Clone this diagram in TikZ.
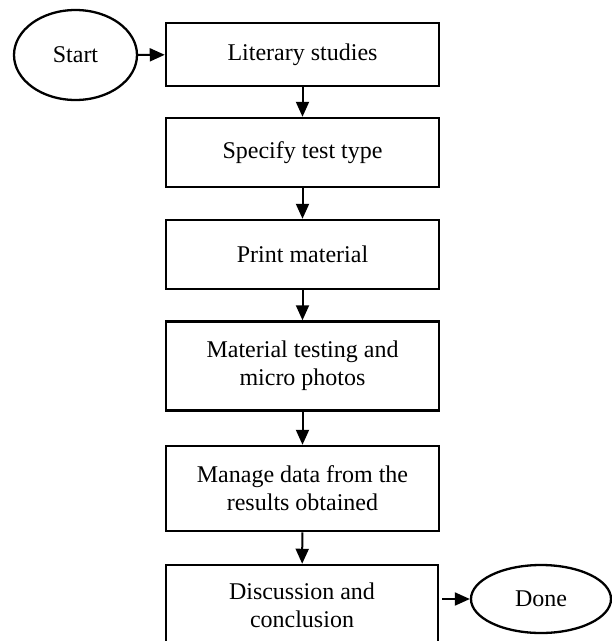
\documentclass[tikz,border=0pt]{standalone}
\usepackage{fontspec}
\setmainfont{Liberation Serif}
\usetikzlibrary{arrows.meta,shapes.geometric}
\begin{document}
\begin{tikzpicture}[x=1pt,y=-1pt,
  every node/.style={font=\fontsize{24}{28}\selectfont, inner sep=0pt, align=center},
  stepbox/.style={draw, line width=2.5pt, rectangle, minimum width=273pt},
  term/.style={draw, line width=2.3pt, ellipse},
  arr/.style={line width=2pt, -{Triangle[length=15pt,width=13pt]}}]
\useasboundingbox (0,0) rectangle (612,641);
\clip (0,0) rectangle (612,641);
\node[term, minimum width=123pt, minimum height=90pt] (start) at (75.5,55) {Start};
\node[stepbox, minimum height=63pt] (b1) at (302.5,54.5) {Literary studies};
\node[stepbox, minimum height=69pt] (b2) at (302.5,152.5) {Specify test type};
\node[stepbox, minimum height=69pt] (b3) at (302.5,254.5) {Print material};
\node[stepbox, minimum height=89pt] (b4) at (302.5,366) {Material testing and\\micro photos};
\node[stepbox, minimum height=85pt] (b5) at (302.5,488.5) {Manage data from the\\results obtained};
\node[stepbox, minimum height=80pt, minimum width=272pt] (b6) at (302,605) {Discussion and\\conclusion};
\node[term, minimum width=140pt, minimum height=68pt] (done) at (541,599) {Done};
\coordinate (d0) at (442,599);
\draw[arr] (start) -- (b1);
\draw[arr] (b1) -- (b2);
\draw[arr] (b2) -- (b3);
\draw[arr] (b3) -- (b4);
\draw[arr] (b4) -- (b5);
\draw[arr] (b5) -- (b6);
\draw[arr] (d0) -- (done);
\end{tikzpicture}
\end{document}
